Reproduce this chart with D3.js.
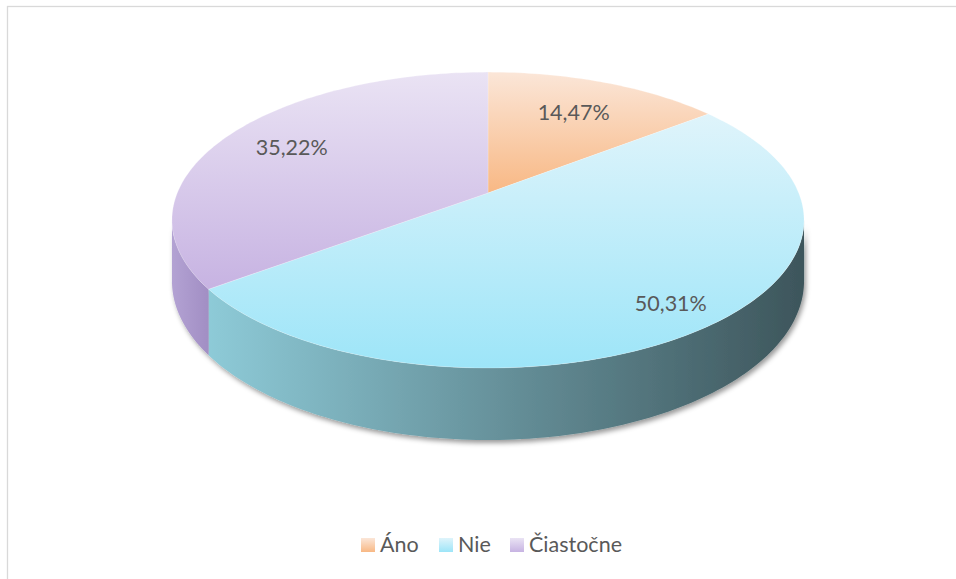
<html>
  <head>
  <meta charset="utf-8">
  <script src="https://d3js.org/d3.v7.min.js"></script>
  <style>
    body { margin: 0; background: #fff; font-family: Lato, 'Open Sans', sans-serif; }
  </style>
  </head>
  <body>
    <svg id="vis" width="956" height="579"></svg>
    <script>
      // data
      var categories = ['Áno', 'Nie', 'Čiastočne']
      var values = [14.47, 50.31, 35.22]
      var labels = ['14,47%', '50,31%', '35,22%']

      // look
      var topFrom = ['#fbe6d8', '#dff4fb', '#eae3f4']
      var topTo = ['#f8b884', '#9de5f8', '#c7b3e2']
      var sideFrom = ['#f8b884', '#8ecbd8', '#b3a2d3']
      var sideTo = ['#d08a55', '#3d555b', '#9c88bf']
      var labelR = [0.7, 0.85, 0.75]

      var W = 956, H = 579
      var svg = d3.select('#vis')

      // projected 3d disc (a bit of perspective, near side larger)
      var cx = 488, cy = 193, A = 310.7, B = 143, p = 0.183, depth = 58.8

      function proj(t, f, down) {
        var X = f * Math.sin(t), Z = -f * Math.cos(t)
        var w = 1 / (1 - p * Z)
        return [cx + A * X * w, cy + B * Z * w + (down ? depth * w : 0)]
      }
      function arcPts(a, b, f, down) {
        var n = Math.max(2, Math.ceil(Math.abs(b - a) / 0.02))
        return d3.range(n + 1).map(i => proj(a + (b - a) * i / n, f, down))
      }

      var defs = svg.append('defs')
      categories.forEach((c, i) => {
        var g = defs.append('linearGradient').attr('id', 'top' + i)
          .attr('x1', 0).attr('y1', 0).attr('x2', 0).attr('y2', 1)
        g.append('stop').attr('offset', 0).attr('stop-color', topFrom[i])
        g.append('stop').attr('offset', 1).attr('stop-color', topTo[i])

        var s = defs.append('linearGradient').attr('id', 'side' + i)
          .attr('gradientUnits', 'userSpaceOnUse')
          .attr('x1', i == 2 ? 172 : 205).attr('y1', 0)
          .attr('x2', i == 2 ? 220 : 805).attr('y2', 0)
        s.append('stop').attr('offset', 0).attr('stop-color', sideFrom[i])
        s.append('stop').attr('offset', 1).attr('stop-color', sideTo[i])
      })
      var sh = defs.append('filter').attr('id', 'shadow')
        .attr('x', -0.1).attr('y', -0.1).attr('width', 1.2).attr('height', 1.4)
      sh.append('feDropShadow').attr('dx', 2).attr('dy', 3)
        .attr('stdDeviation', 2.5).attr('flood-color', '#000').attr('flood-opacity', 0.4)

      // frame
      svg.append('rect')
        .attr('x', 7.5).attr('y', 6.5).attr('width', W + 20).attr('height', H + 20)
        .style('fill', 'none').style('stroke', '#d9d9d9').style('stroke-width', 1.3)

      var arcs = d3.pie().sort(null).startAngle(0).endAngle(2 * Math.PI)(values)

      var line = d3.line()
      var pie = svg.append('g')

      // visible side: between the two silhouette angles
      var s0 = Math.acos(-p), s1 = 2 * Math.PI - Math.acos(-p)
      var sides = pie.append('g').attr('filter', 'url(#shadow)')
      arcs.forEach((d, i) => {
        var a = Math.max(d.startAngle, s0), b = Math.min(d.endAngle, s1)
        if (b <= a) return
        var pts = arcPts(a, b, 1, false).concat(arcPts(b, a, 1, true))
        sides.append('path')
          .attr('d', line(pts) + 'Z')
          .style('fill', 'url(#side' + i + ')')
      })

      // top faces
      arcs.forEach((d, i) => {
        var pts = [proj(0, 0, false)].concat(arcPts(d.startAngle, d.endAngle, 1, false))
        pie.append('path')
          .attr('d', line(pts) + 'Z')
          .style('fill', 'url(#top' + i + ')')
          .style('stroke', 'rgba(255,255,255,0.35)')
          .style('stroke-width', 0.6)
      })

      // data labels
      arcs.forEach((d, i) => {
        var m = proj((d.startAngle + d.endAngle) / 2, labelR[i], false)
        svg.append('text')
          .attr('x', m[0]).attr('y', m[1]).attr('dy', '0.36em')
          .attr('text-anchor', 'middle')
          .text(labels[i])
          .style('fill', '#595959').style('font-size', '21.5px')
      })

      // legend
      var leg = svg.append('g')
      var lx = [361, 439, 510]
      categories.forEach((c, i) => {
        leg.append('rect')
          .attr('x', lx[i]).attr('y', 538).attr('width', 14).attr('height', 14)
          .style('fill', 'url(#top' + i + ')')
        leg.append('text')
          .attr('x', lx[i] + 19).attr('y', 552)
          .text(c)
          .style('fill', '#595959').style('font-size', '21.5px')
      })
    </script>
  </body>
</html>
